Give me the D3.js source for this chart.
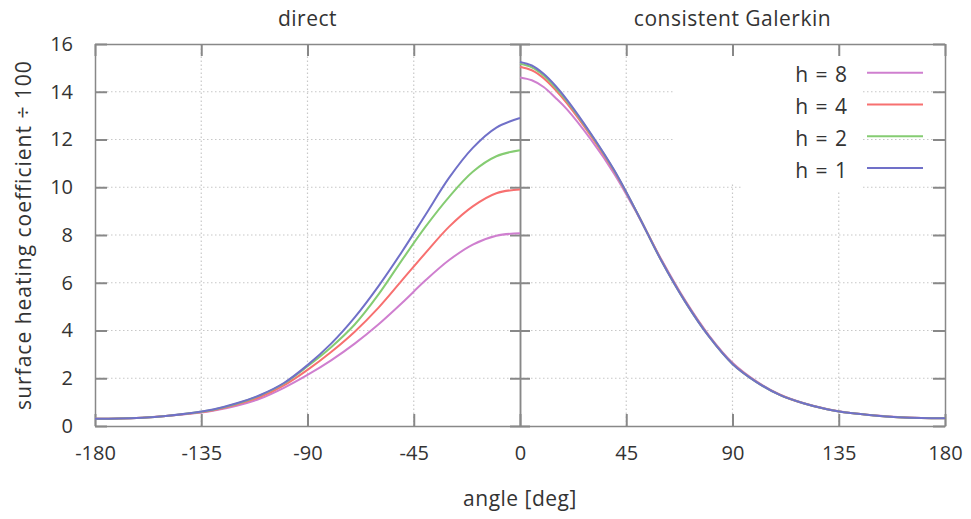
<!DOCTYPE html>
<html>
<head>
<meta charset="utf-8">
<script src="https://cdn.jsdelivr.net/npm/d3@7"></script>
<style>
  body { margin: 0; background: #fff; }
  svg text { font-family: "Open Sans", Lato, sans-serif; fill: #333; }
  .axis path, .axis line { stroke: #888; }
  .axis path { stroke-width: 1.5; }
  .axis line { stroke-width: 2; }
  .grid line { stroke: #c8c8c8; stroke-width: 1.2; stroke-dasharray: 1.5,2.5; }
</style>
</head>
<body>
<div id="chart"></div>
<script>
const W = 971, H = 519;

const xTicks = [-180, -135, -90, -45, 0, 45, 90, 135, 180];
const yTicks = [0, 2, 4, 6, 8, 10, 12, 14, 16];
const panelTitles = ["direct", "consistent Galerkin"];
const seriesLabels = ["h = 8", "h = 4", "h = 2", "h = 1"];
const seriesColors = ["#cf7fcf", "#f77070", "#85cc72", "#7070c8"];

// left half: direct
const directAngles = [-180, -170, -160, -150, -140, -130, -120, -110, -100, -90, -80, -70, -60, -50, -40, -30, -20, -10, 0];
const direct_h8 = [0.3, 0.31, 0.35, 0.42, 0.51, 0.64, 0.85, 1.15, 1.6, 2.14, 2.75, 3.45, 4.25, 5.15, 6.1, 6.95, 7.6, 7.97, 8.07];
const direct_h4 = [0.3, 0.31, 0.35, 0.42, 0.52, 0.66, 0.9, 1.22, 1.7, 2.35, 3.1, 3.95, 4.95, 6.1, 7.25, 8.35, 9.2, 9.75, 9.91];
const direct_h2 = [0.3, 0.31, 0.35, 0.42, 0.53, 0.68, 0.93, 1.28, 1.78, 2.5, 3.3, 4.25, 5.5, 6.95, 8.35, 9.6, 10.65, 11.3, 11.55];
const direct_h1 = [0.3, 0.31, 0.35, 0.42, 0.53, 0.69, 0.95, 1.3, 1.8, 2.55, 3.45, 4.55, 5.85, 7.3, 8.85, 10.4, 11.65, 12.5, 12.9];

// right half: consistent Galerkin
const galerkinAngles = [0, 5, 10, 15, 20, 30, 40, 50, 60, 70, 80, 90, 100, 110, 120, 130, 140, 150, 160, 170, 180];
const galerkin_h8 = [14.6, 14.48, 14.2, 13.75, 13.25, 12.0, 10.55, 8.82, 6.95, 5.25, 3.8, 2.65, 1.88, 1.32, 0.96, 0.71, 0.55, 0.45, 0.38, 0.34, 0.33];
const galerkin_h4 = [15.05, 14.9, 14.57, 14.08, 13.5, 12.15, 10.65, 8.85, 6.92, 5.22, 3.77, 2.62, 1.86, 1.31, 0.95, 0.7, 0.54, 0.44, 0.37, 0.33, 0.32];
const galerkin_h2 = [15.17, 15.02, 14.68, 14.18, 13.6, 12.22, 10.68, 8.85, 6.9, 5.2, 3.75, 2.6, 1.85, 1.3, 0.95, 0.7, 0.54, 0.44, 0.37, 0.33, 0.32];
const galerkin_h1 = [15.25, 15.1, 14.75, 14.25, 13.65, 12.25, 10.7, 8.85, 6.9, 5.2, 3.75, 2.6, 1.85, 1.3, 0.95, 0.7, 0.54, 0.44, 0.37, 0.33, 0.32];

const directSeries = [direct_h8, direct_h4, direct_h2, direct_h1];
const galerkinSeries = [galerkin_h8, galerkin_h4, galerkin_h2, galerkin_h1];

const svg = d3.select("#chart").append("svg").attr("width", W).attr("height", H);

const x = d3.scaleLinear().domain([-180, 180]).range([95, 945]);
const y = d3.scaleLinear().domain([0, 16]).range([426, 44]);

// grid
const grid = svg.append("g").attr("class", "grid");
grid.selectAll(".gy").data(yTicks.filter(d => d > 0 && d < 16)).join("line")
  .attr("x1", x(-180)).attr("x2", x(180))
  .attr("y1", d => y(d)).attr("y2", d => y(d));
grid.selectAll(".gx").data(xTicks.filter(d => Math.abs(d) < 180 && d !== 0)).join("line")
  .attr("x1", d => x(d)).attr("x2", d => x(d))
  .attr("y1", y(0)).attr("y2", y(16));

// legend background hides the grid behind it
svg.append("rect").attr("x", 675).attr("y", 50).attr("width", 187).attr("height", 133).attr("fill", "#fff");
svg.append("rect").attr("x", 742).attr("y", 182).attr("width", 120).attr("height", 9).attr("fill", "#fff");

// axes (frame + inward ticks)
const fs = 20;
const fmt = d => String(d);
svg.append("g").attr("class", "axis").attr("transform", `translate(${x(-180)},0)`)
  .call(d3.axisLeft(y).tickValues(yTicks).tickFormat(fmt).tickSizeInner(-12).tickSizeOuter(0).tickPadding(22))
  .call(g => g.selectAll("text").style("font-size", fs + "px").attr("fill", "#333"));
svg.append("g").attr("class", "axis").attr("transform", `translate(${x(180)},0)`)
  .call(d3.axisRight(y).tickValues(yTicks).tickSizeInner(-12).tickSizeOuter(0).tickFormat(""));
svg.append("g").attr("class", "axis").attr("transform", `translate(0,${y(0)})`)
  .call(d3.axisBottom(x).tickValues(xTicks).tickFormat(fmt).tickSizeInner(-12).tickSizeOuter(0).tickPadding(20))
  .call(g => g.selectAll("text").style("font-size", fs + "px").attr("fill", "#333"));
svg.append("g").attr("class", "axis").attr("transform", `translate(0,${y(16)})`)
  .call(d3.axisTop(x).tickValues(xTicks).tickSizeInner(-12).tickSizeOuter(0).tickFormat(""));

// centre divider with ticks on both sides
svg.append("g").attr("class", "axis").attr("transform", `translate(${x(0)},0)`)
  .call(d3.axisLeft(y).tickValues(yTicks).tickSizeInner(10).tickSizeOuter(0).tickFormat(""));
svg.append("g").attr("class", "axis").attr("transform", `translate(${x(0)},0)`)
  .call(d3.axisRight(y).tickValues(yTicks).tickSizeInner(10).tickSizeOuter(0).tickFormat(""));

// curves
const line = d3.line().x(d => x(d[0])).y(d => y(d[1])).curve(d3.curveCatmullRom.alpha(0.5));
seriesLabels.forEach((lab, i) => {
  svg.append("path")
    .datum(directAngles.map((a, j) => [a, directSeries[i][j]]))
    .attr("fill", "none").attr("stroke", seriesColors[i]).attr("stroke-width", 2)
    .attr("d", line);
  svg.append("path")
    .datum(galerkinAngles.map((a, j) => [a, galerkinSeries[i][j]]))
    .attr("fill", "none").attr("stroke", seriesColors[i]).attr("stroke-width", 2)
    .attr("d", line);
});

// legend
const legend = svg.append("g");
seriesLabels.forEach((lab, i) => {
  const ly = 72.7 + i * 31.8;
  legend.append("text").attr("x", 848).attr("y", ly + 4)
    .attr("text-anchor", "end").attr("dominant-baseline", "middle")
    .style("font-size", "21px").style("letter-spacing", "1px").text(lab);
  legend.append("line").attr("x1", 867).attr("x2", 923).attr("y1", ly).attr("y2", ly)
    .attr("stroke", seriesColors[i]).attr("stroke-width", 2);
});

// titles
const titleStyle = t => t.attr("text-anchor", "middle").attr("dominant-baseline", "middle")
  .style("font-size", "21px").style("letter-spacing", "0.5px");
svg.append("text").attr("x", (x(-180) + x(0)) / 2).attr("y", 20).call(titleStyle).text(panelTitles[0]);
svg.append("text").attr("x", (x(0) + x(180)) / 2).attr("y", 20).call(titleStyle).text(panelTitles[1]);

svg.append("text").attr("x", x(0)).attr("y", 500).call(titleStyle).text("angle [deg]");
svg.append("text").attr("transform", `translate(25,${(y(0) + y(16)) / 2}) rotate(-90)`)
  .call(titleStyle).style("letter-spacing", "1px")
  .text("surface heating coefficient ÷ 100");
</script>
</body>
</html>
